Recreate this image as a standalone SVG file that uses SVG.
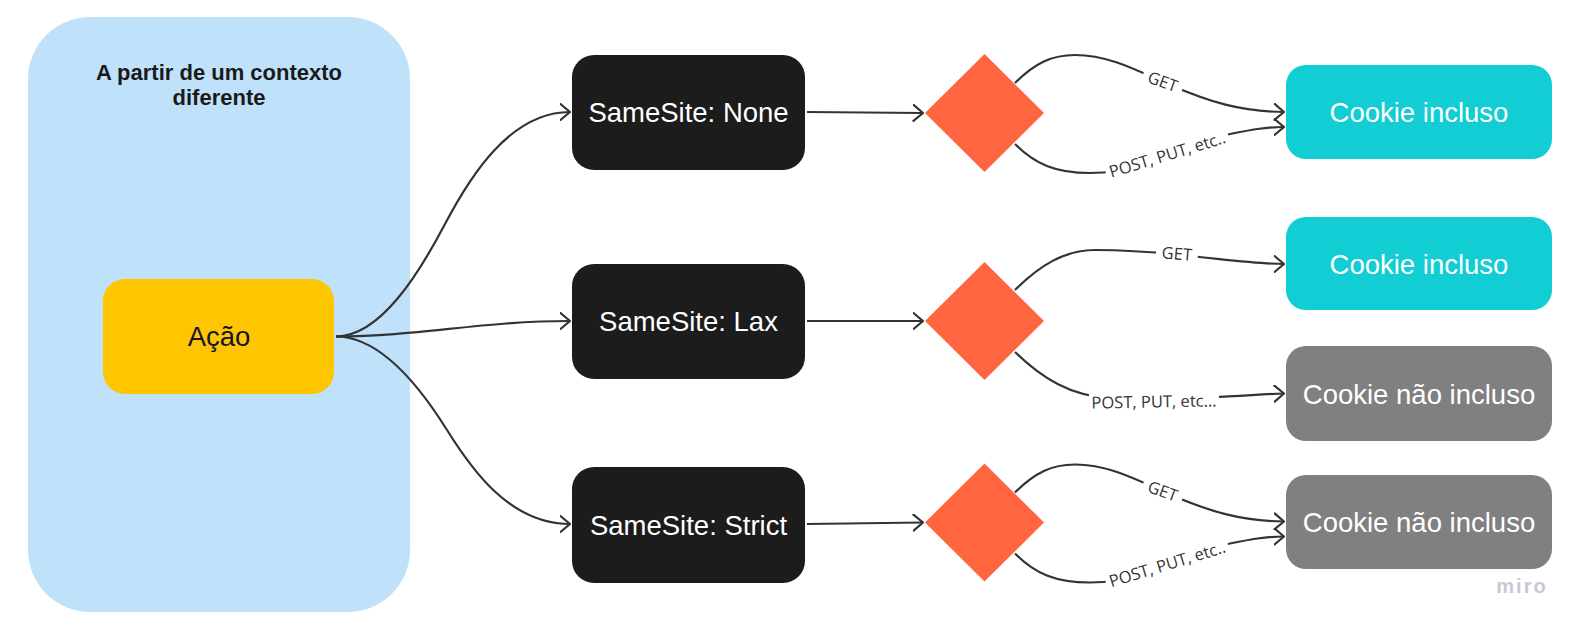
<svg xmlns="http://www.w3.org/2000/svg" width="1584" height="631" viewBox="0 0 1584 631">
<style>
.node-text{font-family:"Liberation Sans",Arial,sans-serif;font-size:27.5px;text-anchor:middle;fill:#ffffff}
.conn{fill:none;stroke:#333333;stroke-width:2.2}
.lbl{font-family:"Open Sans","Noto Sans",sans-serif;font-size:16.5px;fill:#333333;text-anchor:middle;dominant-baseline:central}
.lblbg{fill:#ffffff}
</style>
<defs>
<marker id="arr" markerUnits="userSpaceOnUse" viewBox="0 0 12 18" markerWidth="12" markerHeight="18" refX="10.5" refY="9" orient="auto">
<path d="M1,1 L10.5,9 L1,17" fill="none" stroke="#333333" stroke-width="2.2" stroke-linecap="round" stroke-linejoin="round"/>
</marker>
</defs>
<rect width="1584" height="631" fill="#ffffff"/>
<g id="container">
<rect x="28" y="17" width="382" height="595" rx="62" ry="62" fill="#c0e1fa"/>
<text x="219" y="80" font-family="'Liberation Sans',Arial,sans-serif" font-size="22" font-weight="bold" fill="#1a1a1a" text-anchor="middle">A partir de um contexto</text>
<text x="219" y="105" font-family="'Liberation Sans',Arial,sans-serif" font-size="22" font-weight="bold" fill="#1a1a1a" text-anchor="middle">diferente</text>
</g>
<g id="acao">
<rect x="103" y="279" width="231" height="115" rx="22" fill="#fec600"/>
<text x="219" y="346" class="node-text" style="fill:#14142b">Ação</text>
</g>
<g id="samesite-none">
<rect x="572" y="55" width="233" height="115" rx="22" fill="#1c1c1c"/>
<text x="688.5" y="122" class="node-text">SameSite: None</text>
</g>
<g id="samesite-lax">
<rect x="572" y="264" width="233" height="115" rx="22" fill="#1c1c1c"/>
<text x="688.5" y="331" class="node-text">SameSite: Lax</text>
</g>
<g id="samesite-strict">
<rect x="572" y="467" width="233" height="116" rx="22" fill="#1c1c1c"/>
<text x="688.5" y="534.5" class="node-text">SameSite: Strict</text>
</g>
<g id="decision-none"><polygon points="984.5,54 1044,113 984.5,172 925,113" fill="#ff6640"/></g>
<g id="decision-lax"><polygon points="984.5,262 1044,321 984.5,380 925,321" fill="#ff6640"/></g>
<g id="decision-strict"><polygon points="984.5,463.5 1044,522.5 984.5,581.5 925,522.5" fill="#ff6640"/></g>
<g id="cookie-1">
<rect x="1286" y="65" width="266" height="94" rx="20" fill="#12cdd4"/>
<text x="1419" y="122" class="node-text">Cookie incluso</text>
</g>
<g id="cookie-2">
<rect x="1286" y="217" width="266" height="93" rx="20" fill="#12cdd4"/>
<text x="1419" y="273.5" class="node-text">Cookie incluso</text>
</g>
<g id="cookie-3">
<rect x="1286" y="346" width="266" height="95" rx="20" fill="#808080"/>
<text x="1419" y="403.5" class="node-text">Cookie não incluso</text>
</g>
<g id="cookie-4">
<rect x="1286" y="475" width="266" height="94" rx="20" fill="#808080"/>
<text x="1419" y="532" class="node-text">Cookie não incluso</text>
</g>
<g id="connectors">
<path class="conn" marker-end="url(#arr)" d="M336,336.5 C381,336.5 420,271.5 445,224 C470,176.5 510,112 570,112"/>
<path class="conn" marker-end="url(#arr)" d="M336,336.5 C420,336.5 480,321 570,321"/>
<path class="conn" marker-end="url(#arr)" d="M336,336.5 C381,336.5 422,390 447,430 C472,470 510,524 570,524"/>
<path class="conn" marker-end="url(#arr)" d="M807,112 L923,113"/>
<path class="conn" marker-end="url(#arr)" d="M807,321 L923,321"/>
<path class="conn" marker-end="url(#arr)" d="M807,524 L923,522.5"/>
<!-- None -->
<path class="conn" marker-end="url(#arr)" d="M1015,83 C1035,63 1052,55 1075,55 C1110,55 1140,72 1170,85 C1210,102 1240,111.5 1284,112"/>
<path class="conn" marker-end="url(#arr)" d="M1015,144 C1035,164 1055,173 1090,173 C1150,173 1200,140 1230,134 C1250,130 1265,127 1284,127"/>
<!-- Lax -->
<path class="conn" marker-end="url(#arr)" d="M1015,290 C1040,265 1065,250 1095,250 C1140,250 1160,253 1190,256 C1230,260 1260,264 1284,264"/>
<path class="conn" marker-end="url(#arr)" d="M1015,352 C1042,378 1070,396 1110,398 L1210,397 C1240,396.5 1260,394 1284,393.5"/>
<!-- Strict -->
<path class="conn" marker-end="url(#arr)" d="M1015,492.5 C1035,472.5 1052,464.5 1075,464.5 C1110,464.5 1140,481.5 1170,494.5 C1210,511.5 1240,521 1284,521.5"/>
<path class="conn" marker-end="url(#arr)" d="M1015,553.5 C1035,573.5 1055,582.5 1090,582.5 C1150,582.5 1200,549.5 1230,543.5 C1250,539.5 1265,536.5 1284,536.5"/>
<g transform="translate(1163,81) rotate(20)"><rect class="lblbg" x="-21" y="-10" width="42" height="20"/><text class="lbl" x="0" y="0">GET</text></g>
<g transform="translate(1167,154) rotate(-17)"><rect class="lblbg" x="-64" y="-10" width="128" height="20"/><text class="lbl" x="0" y="0">POST, PUT, etc..</text></g>
<g transform="translate(1177,253) rotate(5)"><rect class="lblbg" x="-21" y="-10" width="42" height="20"/><text class="lbl" x="0" y="0">GET</text></g>
<g transform="translate(1154,401) rotate(-1)"><rect class="lblbg" x="-65" y="-10" width="130" height="20"/><text class="lbl" x="0" y="0">POST, PUT, etc...</text></g>
<g transform="translate(1163,490.5) rotate(20)"><rect class="lblbg" x="-21" y="-10" width="42" height="20"/><text class="lbl" x="0" y="0">GET</text></g>
<g transform="translate(1167,563.5) rotate(-17)"><rect class="lblbg" x="-64" y="-10" width="128" height="20"/><text class="lbl" x="0" y="0">POST, PUT, etc..</text></g>
</g>
<text x="1522" y="593" font-family="'Liberation Sans',Arial,sans-serif" font-size="20" font-weight="bold" letter-spacing="2" fill="#c8c8d6" text-anchor="middle">miro</text>
</svg>
